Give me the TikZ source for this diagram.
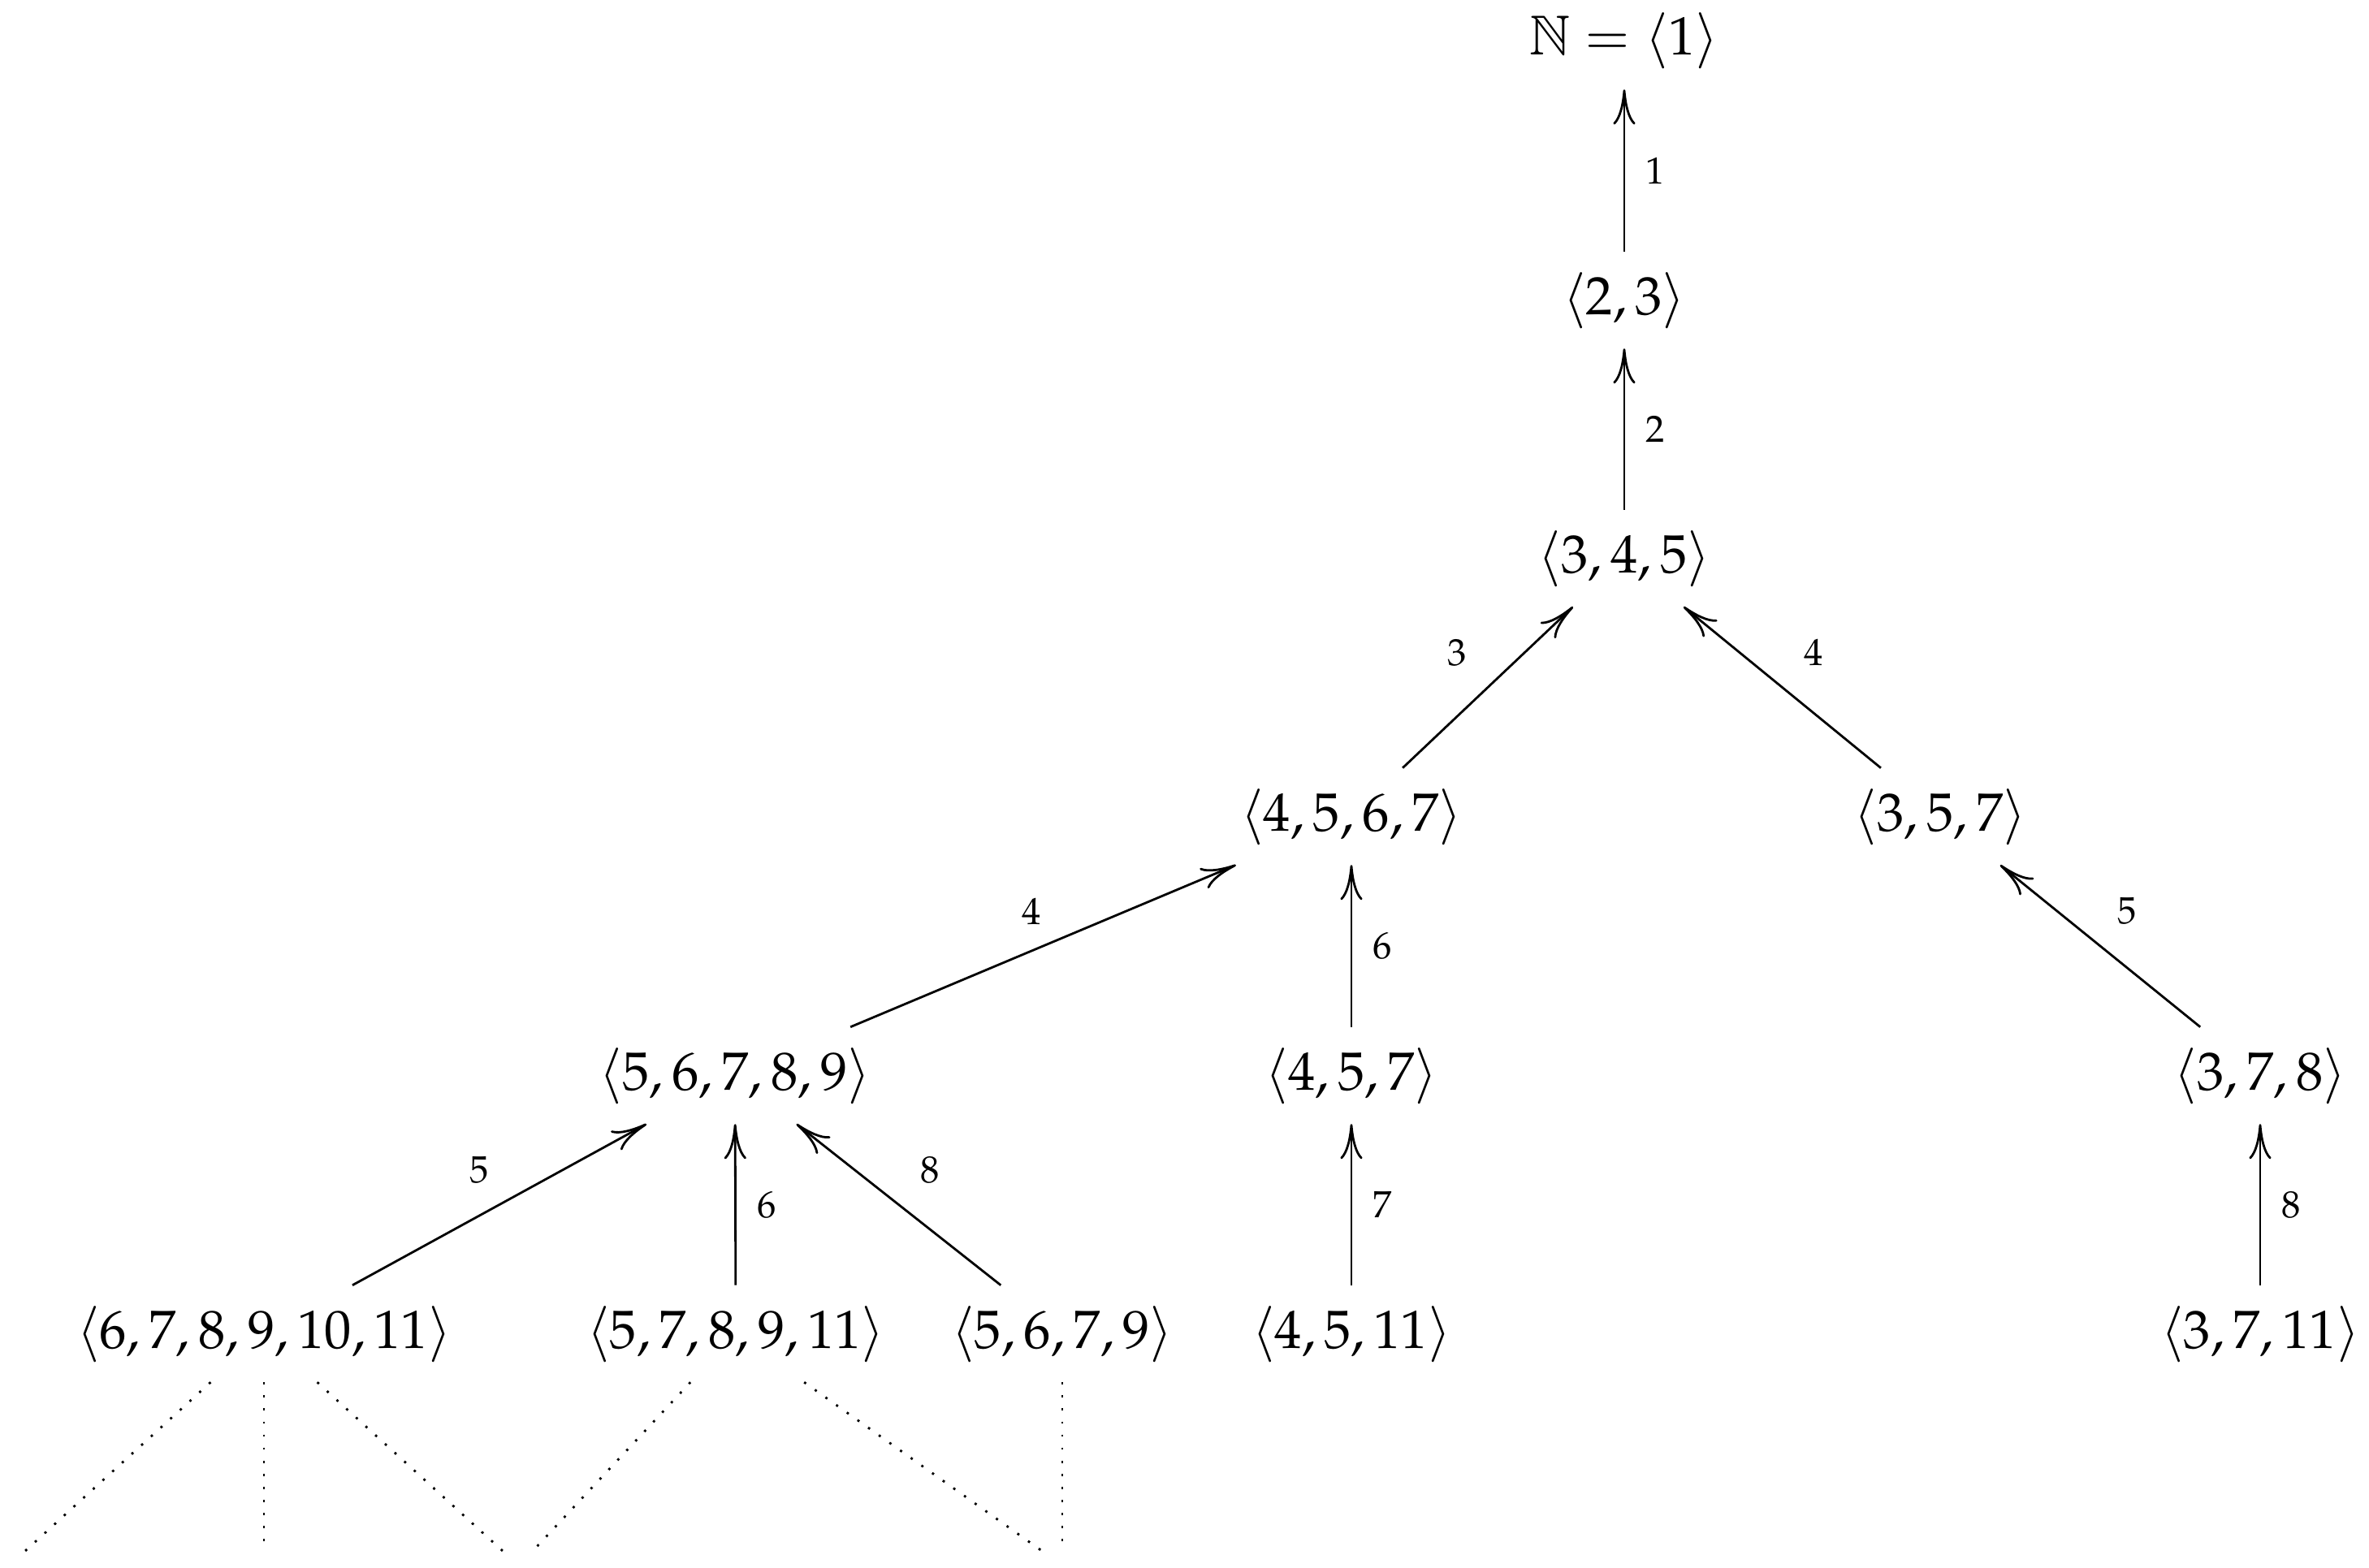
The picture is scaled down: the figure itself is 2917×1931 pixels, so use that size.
\documentclass[tikz,border=0pt]{standalone}
\usepackage{mathpazo}
\usepackage{amssymb}
\DeclareMathAlphabet{\msbN}{U}{msb}{m}{n}
\usetikzlibrary{arrows.meta}
\begin{document}
\begin{tikzpicture}[x={(0.150376pt,0)}, y={(0,-0.150376pt)},
  grp/.style={inner sep=3.6pt, anchor=base},
  arr/.style={line width=0.42pt, -{Computer Modern Rightarrow[length=6.5pt,width=4.1pt]}},
  lab/.style={font=\scriptsize, inner sep=3.8pt},
  dots/.style={dotted, line width=0.42pt}]
\useasboundingbox (0,0) rectangle (2917,1931);
% nodes
\node[grp] (n1) at (2000,68) {$\msbN{N} = \langle 1\rangle$};
\node[grp] (n23) at (2000,387) {$\langle 2,3\rangle$};
\node[grp] (n345) at (2000,705) {$\langle 3,4,5\rangle$};
\node[grp] (n4567) at (1664,1023) {$\langle 4,5,6,7\rangle$};
\node[grp] (n357) at (2389,1023) {$\langle 3,5,7\rangle$};
\node[grp] (n56789) at (905,1342) {$\langle 5,6,7,8,9\rangle$};
\node[grp] (n457) at (1664,1342) {$\langle 4,5,7\rangle$};
\node[grp] (n378) at (2783,1342) {$\langle 3,7,8\rangle$};
\node[grp] (n67891011) at (325,1660) {$\langle 6,7,8,9,10,11\rangle$};
\node[grp] (n578911) at (906,1660) {$\langle 5,7,8,9,11\rangle$};
\node[grp] (n5679) at (1308,1660) {$\langle 5,6,7,9\rangle$};
\node[grp] (n4511) at (1664,1660) {$\langle 4,5,11\rangle$};
\node[grp] (n3711) at (2783,1660) {$\langle 3,7,11\rangle$};
% arrows
\draw[arr] (n23) -- node[lab,auto,swap] {$1$} (n1);
\draw[arr] (n345) -- node[lab,auto,swap] {$2$} (n23);
\draw[arr] (n4567) -- node[lab,auto] {$3$} (n345);
\draw[arr] (n357) -- node[lab,auto,swap] {$4$} (n345);
\draw[arr] (n56789) -- node[lab,auto,xshift=3.6pt] {$4$} (n4567);
\draw[arr] (n457) -- node[lab,auto,swap] {$6$} (n4567);
\draw[arr] (n378) -- node[lab,auto,swap,xshift=-0.8pt] {$5$} (n357);
\draw[arr] (n67891011) -- node[lab,auto,xshift=2pt] {$5$} (n56789);
\draw[arr] (n578911) -- node[lab,auto,swap] {$6$} (n56789);
\draw[arr] (n5679) -- node[lab,auto,swap] {$8$} (n56789);
\draw[arr] (n4511) -- node[lab,auto,swap] {$7$} (n457);
\draw[arr] (n3711) -- node[lab,auto,swap] {$8$} (n378);
% dotted continuations
\coordinate (d1) at (31,1910);
\coordinate (d2) at (325,1910);
\coordinate (d3) at (619,1910);
\coordinate (d4) at (656,1910);
\coordinate (d5) at (1283,1910);
\coordinate (d6) at (1308,1910);
\draw[dots] (n67891011) -- (d1);
\draw[dots] (n67891011) -- (d2);
\draw[dots] (n67891011) -- (d3);
\draw[dots] (n578911) -- (d4);
\draw[dots] (n578911) -- (d5);
\draw[dots] (n5679) -- (d6);
\end{tikzpicture}
\end{document}
